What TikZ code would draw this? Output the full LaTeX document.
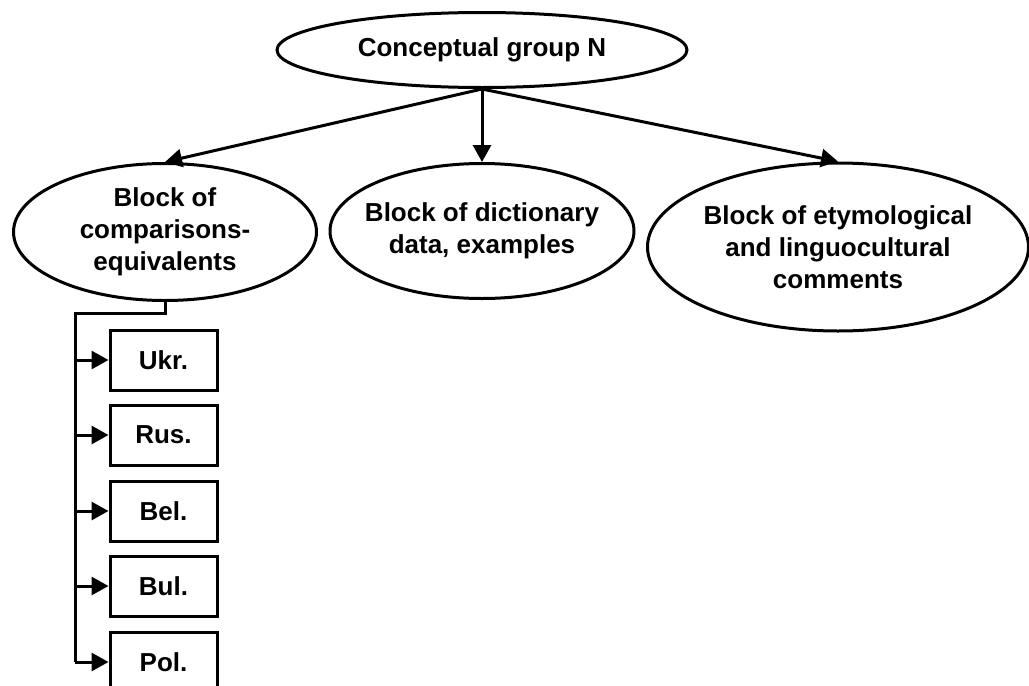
\documentclass[tikz,border=0pt]{standalone}
\usepackage{fontspec}
\setmainfont{Liberation Sans}
\usetikzlibrary{shapes.geometric, arrows.meta}

\tikzset{
  block/.style={draw, ellipse, line width=1.5pt, inner xsep=-8pt, inner ysep=0pt,
    align=center, font=\fontsize{13}{16}\selectfont\bfseries},
  langbox/.style={draw, rectangle, line width=1.5pt, minimum width=53.5pt,
    minimum height=30pt, inner sep=0pt, font=\fontsize{13}{16}\selectfont\bfseries},
  link/.style={line width=1.5pt},
  arr/.style={line width=1.5pt, -{Triangle[length=8.5pt,width=9pt]}}
}

\begin{document}
\begin{tikzpicture}[x=0.5pt, y=-0.5pt]
  \useasboundingbox (0,0) rectangle (1029,686);

  % Ellipses
  \node[block, minimum width=205pt, minimum height=37.5pt] (group) at (482,50)
    {Conceptual group N};
  \node[block, minimum width=151.5pt, minimum height=68.5pt] (compar) at (165,232)
    {Block of\\comparisons-\\equivalents};
  \node[block, minimum width=152pt, minimum height=67.5pt] (dict) at (482,231)
    {Block of dictionary\\data, examples};
  \node[block, minimum width=190.5pt, minimum height=84pt] (etym) at (838,247)
    {Block of etymological\\and linguocultural\\comments};

  % Arrows from the group
  \draw[arr] (group.south) -- (compar.north);
  \draw[arr] (group.south) -- (dict.north);
  \draw[arr] (group.south) -- (etym.north);

  % Language boxes
  \node[langbox] (ukr) at (163.5,360) {Ukr.};
  \node[langbox] (rus) at (163.5,435) {Rus.};
  \node[langbox] (bel) at (163.5,511) {Bel.};
  \node[langbox] (bul) at (163.5,586) {Bul.};
  \node[langbox] (pol) at (163.5,662) {Pol.};

  % Trunk line
  \coordinate (bend) at (75,313);
  \draw[link] (compar.south) |- (bend) -- (bend |- pol.west);
  \foreach \lang in {ukr,rus,bel,bul,pol}
    \draw[arr] (bend |- \lang.west) -- (\lang.west);
\end{tikzpicture}
\end{document}
